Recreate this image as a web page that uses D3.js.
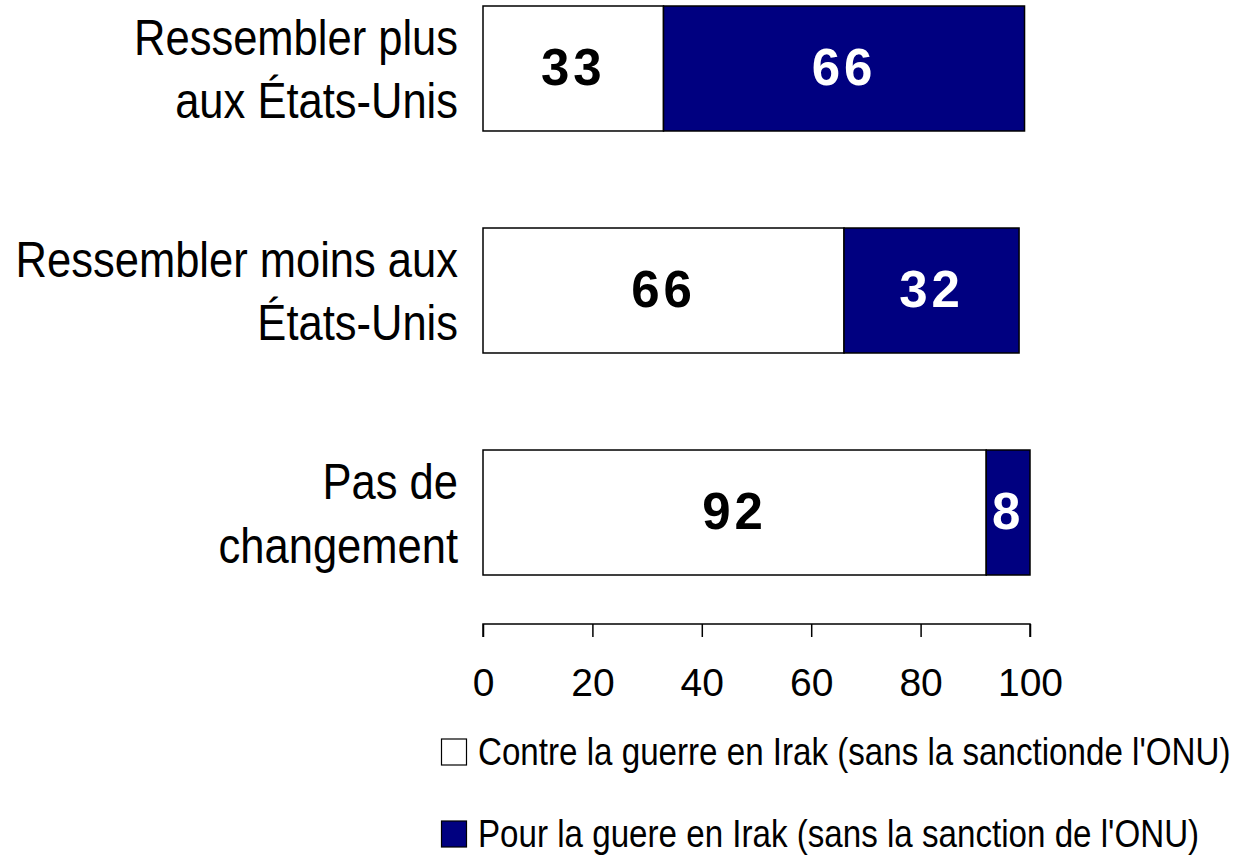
<!DOCTYPE html>
<html><head><meta charset="utf-8">
<script src="https://cdn.jsdelivr.net/npm/d3@7"></script>
<style>
html,body{margin:0;padding:0;background:#fff;}
svg{display:block;}
</style></head>
<body>
<svg id="chart" width="1233" height="856"></svg>
<script>
const categories = [
  ["Ressembler plus", "aux États-Unis"],
  ["Ressembler moins aux", "États-Unis"],
  ["Pas de", "changement"]
];
const contre = [33, 66, 92];
const pour = [66, 32, 8];
const ticks = [0, 20, 40, 60, 80, 100];
const seriesNames = [
  "Contre la guerre en Irak (sans la sanctionde l'ONU)",
  "Pour la guere en Irak (sans la sanction de l'ONU)"
];
const colors = ["#ffffff", "#000080"];
const labelColors = ["#000000", "#ffffff"];

const FONT = "'Liberation Sans', Arial, sans-serif";
const svg = d3.select("#chart");
const x = d3.scaleLinear().domain([0, 100]).range([483, 1030]);
const keys = categories.map((c, i) => i);
const y = d3.scaleBand().domain(keys).range([6, 575]).paddingInner(0.437).paddingOuter(0);

const data = keys.map(i => ({i, contre: contre[i], pour: pour[i]}));
const stack = d3.stack().keys(["contre", "pour"])(data);

const g = svg.append("g");
stack.forEach((layer, li) => {
  g.selectAll(null).data(layer).enter().append("rect")
    .attr("x", d => x(d[0]))
    .attr("y", d => y(d.data.i))
    .attr("width", d => x(d[1]) - x(d[0]))
    .attr("height", y.bandwidth())
    .attr("fill", colors[li])
    .attr("stroke", "#000")
    .attr("stroke-width", 1.5);
  g.selectAll(null).data(layer).enter().append("text")
    .attr("x", d => (x(d[0]) + x(d[1])) / 2)
    .attr("y", d => y(d.data.i) + y.bandwidth() / 2)
    .attr("dy", "0.33em")
    .attr("text-anchor", "middle")
    .attr("font-family", FONT)
    .attr("font-weight", "bold")
    .attr("font-size", 51)
    .attr("letter-spacing", 4)
    .attr("fill", labelColors[li])
    .text(d => d[1] - d[0]);
});

// category labels (condensed)
keys.forEach(i => {
  const cy = y(i) + y.bandwidth() / 2;
  const t = svg.append("text")
    .attr("transform", `translate(458,${cy}) scale(0.87,1)`)
    .attr("font-family", FONT)
    .attr("text-anchor", "end").attr("font-size", 50).attr("fill", "#000");
  categories[i].forEach((line, li) => {
    t.append("tspan").attr("x", 0)
      .attr("y", (li - 0.5) * 64)
      .attr("dy", "0.36em")
      .text(line);
  });
});

// axis
const axis = d3.axisBottom(x).tickValues(ticks).tickSize(13).tickPadding(31).tickFormat(d => d);
const ax = svg.append("g").attr("transform", "translate(0,624)").call(axis);
ax.select(".domain").attr("stroke", "#000").attr("stroke-width", 1.5).attr("d", `M${x(0)},13V0H${x(100)}V13`);
ax.selectAll(".tick line").attr("stroke", "#000").attr("stroke-width", 1.5);
ax.selectAll(".tick text").attr("font-size", 39).attr("fill", "#000").attr("font-family", FONT);
ax.attr("font-family", FONT);

// legend
const legY = [752, 834];
seriesNames.forEach((name, i) => {
  svg.append("rect").attr("x", 441.5).attr("y", legY[i] - 13).attr("width", 25).attr("height", 26)
    .attr("fill", colors[i]).attr("stroke", "#000").attr("stroke-width", 1.2);
  svg.append("text")
    .attr("transform", `translate(478,${legY[i]}) scale(0.85,1)`)
    .attr("dy", "0.33em")
    .attr("font-family", FONT)
    .attr("font-size", 39).attr("fill", "#000").text(name);
});
</script>
</body></html>
